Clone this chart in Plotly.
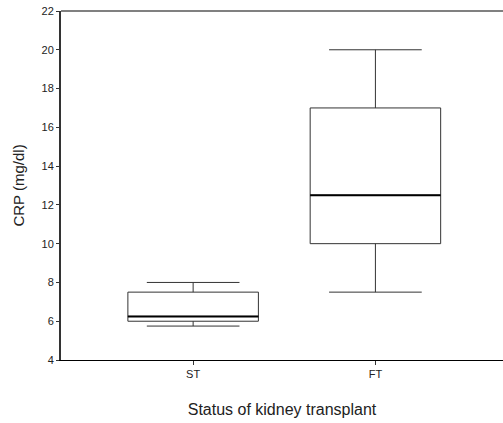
import plotly.graph_objects as go

categories = ["ST", "FT"]
lower_whisker = [5.75, 7.5]
q1_vals = [6.0, 10.0]
median_vals = [6.25, 12.5]
q3_vals = [7.5, 17.0]
upper_whisker = [8.0, 20.0]
y_ticks = [4, 6, 8, 10, 12, 14, 16, 18, 20, 22]

BOX_W = 0.716
pos = list(range(len(categories)))

fig = go.Figure()
fig.add_trace(go.Box(
    x=pos, q1=q1_vals, median=median_vals, q3=q3_vals,
    lowerfence=lower_whisker, upperfence=upper_whisker,
    width=BOX_W, whiskerwidth=0.71, fillcolor="white",
    line=dict(color="#333333", width=1), boxpoints=False,
    showlegend=False, hoverinfo="skip",
))
for i, m in zip(pos, median_vals):
    fig.add_trace(go.Scatter(
        x=[i - BOX_W / 2, i + BOX_W / 2], y=[m, m], mode="lines",
        line=dict(color="black", width=2), showlegend=False, hoverinfo="skip",
    ))

font = "Liberation Sans, Arial, sans-serif"
fig.update_layout(
    width=503, height=423,
    margin=dict(l=61, r=0, t=11, b=63),
    paper_bgcolor="white", plot_bgcolor="white",
    font=dict(family=font, color="#222222", size=11),
    xaxis=dict(
        range=[-0.725, 1.70], tickvals=pos, ticktext=categories,
        showgrid=False, zeroline=False, showline=True, linecolor="black", linewidth=1,
        ticks="outside", ticklen=4, tickcolor="#333333", tickfont=dict(size=11),
        title=dict(text="Status of kidney transplant", font=dict(size=16), standoff=24),
    ),
    yaxis=dict(
        range=[4, 22], tickvals=y_ticks, showgrid=False, zeroline=False,
        showline=True, linecolor="#333333", linewidth=2,
        ticks="outside", ticklen=3, tickcolor="#333333", tickfont=dict(size=11),
        title=dict(text="CRP (mg/dl)", font=dict(size=15), standoff=13),
    ),
    shapes=[dict(type="line", xref="paper", yref="paper", x0=0, x1=1, y0=1, y1=1,
                 line=dict(color="#808080", width=2))],
)

fig.write_html("out.html")
